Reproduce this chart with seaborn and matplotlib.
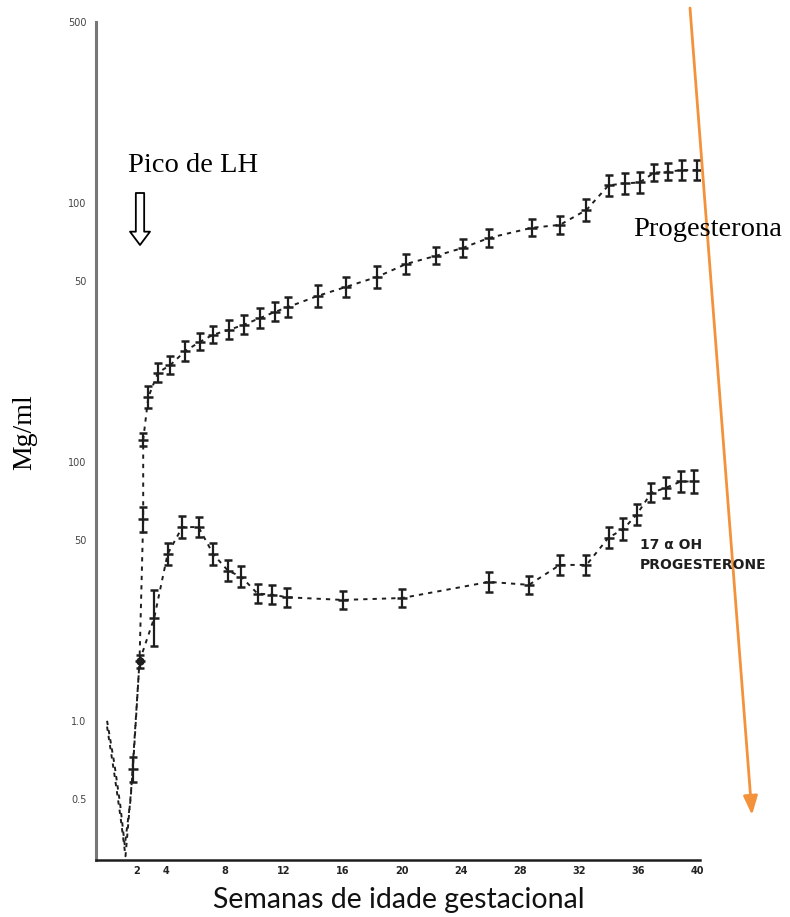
import numpy as np
import pandas as pd
import matplotlib
matplotlib.use("Agg")
import matplotlib.pyplot as plt
import seaborn as sns

# ---- data ----
weeks_prog = [0, 0.5, 0.9, 1.2, 1.6, 2.2, 2.45, 2.45, 2.8, 3.45, 4.3, 5.3, 6.3, 7.2, 8.3,
              9.3, 10.4, 11.4, 12.3, 14.3, 16.2, 18.3, 20.3, 22.3, 24.1, 25.9, 28.8,
              30.7, 32.5, 34.0, 35.1, 36.1, 37.1, 38.0, 39.0, 40.0]
progesterone = [1.0, 0.68, 0.47, 0.33, 0.50, 1.7, 6.0, 12.2, 17.8, 22.1, 23.7, 26.8, 29.1,
                31.0, 32.4, 33.9, 36.0, 38.0, 39.7, 43.8, 47.4, 51.8, 58.2, 62.5, 67.0,
                73.3, 80.2, 82.3, 94.0, 117, 119, 120, 131, 132, 134, 134]
prog_relerr = [0, 0, 0, 0, 0, 0, 0.12, 0.06, 0.10, 0.09, 0.08, 0.09, 0.08, 0.08, 0.09,
               0.09, 0.09, 0.09, 0.09, 0.10, 0.09, 0.10, 0.09, 0.08, 0.08, 0.08, 0.08,
               0.08, 0.10, 0.10, 0.10, 0.10, 0.08, 0.08, 0.09, 0.09]

weeks_ohp = [0, 0.5, 0.9, 1.25, 1.75, 2.2, 3.2, 4.1, 5.1, 6.2, 7.2, 8.2, 9.1, 10.2, 11.2,
             12.2, 16.0, 20.0, 25.9, 28.6, 30.7, 32.5, 34.0, 35.0, 35.9, 36.9, 37.9,
             38.9, 39.8]
ohp = [0.95, 0.62, 0.43, 0.30, 0.65, 1.7, 2.5, 4.4, 5.6, 5.6, 4.4, 3.8, 3.6, 3.1, 3.07,
       3.0, 2.93, 2.98, 3.44, 3.35, 4.0, 4.0, 5.1, 5.5, 6.25, 7.6, 7.95, 8.4, 8.4]
ohp_relerr = [0, 0, 0, 0, 0.12, 0.06, 0.28, 0.10, 0.10, 0.09, 0.10, 0.10, 0.10, 0.09, 0.09,
              0.09, 0.08, 0.08, 0.09, 0.08, 0.09, 0.09, 0.10, 0.10, 0.10, 0.09, 0.10,
              0.10, 0.11]

ytick_values = [500, 100, 50, 10, 5, 1, 0.5]
ytick_labels = ["500", "100", "50", "100", "50", "1.0", "0.5"]
xtick_values = [2, 4, 8, 12, 16, 20, 24, 28, 32, 36, 40]

df = pd.concat([
    pd.DataFrame({"semana": weeks_prog, "valor": progesterone, "rel": prog_relerr,
                  "serie": "Progesterona"}),
    pd.DataFrame({"semana": weeks_ohp, "valor": ohp, "rel": ohp_relerr,
                  "serie": "17 α OH"}),
], ignore_index=True)

sns.set_style("white")
plt.rcParams["font.family"] = ["DejaVu Sans"]

fig = plt.figure(figsize=(7.9, 9.17), dpi=100)
ax = fig.add_axes([96 / 790, 1 - 860 / 917, (700 - 96) / 790, (860 - 22) / 917])

ink = "#1e1e1e"
sns.lineplot(data=df, x="semana", y="valor", hue="serie",
             estimator=None, sort=False, palette=[ink, ink], legend=False, ax=ax,
             linewidth=1.4, linestyle=(0, (2.2, 2.6)))

for name, grp in df.groupby("serie", sort=False):
    g = grp[grp["rel"] > 0]
    v = g["valor"].to_numpy()
    r = g["rel"].to_numpy()
    ax.errorbar(g["semana"], v, yerr=[v - v / (1 + r), v * r], fmt="_", color=ink,
                ms=7, mew=1.8, elinewidth=1.6, capsize=3, capthick=1.6)

# big dot on the rising limb
ax.plot([2.2], [1.7], "o", color=ink, ms=5)

ax.set_yscale("log")
ax.set_ylim(0.29, 500)
ax.set_xlim(-0.75, 40.2)

ax.set_yticks(ytick_values)
ax.set_yticklabels(ytick_labels)
ax.yaxis.set_minor_locator(matplotlib.ticker.NullLocator())
ax.set_xticks(np.arange(0, 41, 2))
ax.set_xticklabels([str(t) if t in xtick_values else "" for t in np.arange(0, 41, 2)])
ax.tick_params(axis="y", direction="out", length=5, width=1.2, color="#555",
               labelsize=7, labelcolor="#444", pad=2)
ax.tick_params(axis="x", direction="inout", length=5, width=2, color=ink,
               labelsize=7, labelcolor="#222", pad=2)
for lbl in ax.get_xticklabels():
    lbl.set_fontweight("bold")

for s in ["top", "right"]:
    ax.spines[s].set_visible(False)
ax.spines["left"].set_color("#777")
ax.spines["left"].set_linewidth(2.2)
ax.spines["bottom"].set_color(ink)
ax.spines["bottom"].set_linewidth(1.8)
ax.set_xlabel("")
ax.set_ylabel("")

# texts
serif = ["Liberation Serif", "DejaVu Serif"]
fig.text(128 / 790, 1 - 165 / 917, "Pico de LH", family=serif, fontsize=20.5,
         va="center", ha="left", color="black")
fig.text(633 / 790, 1 - 230 / 917, "Progesterona", family=serif, fontsize=20.5,
         va="center", ha="left", color="black")
fig.text(25 / 790, 1 - 432 / 917, "Mg/ml", family=serif, fontsize=20,
         va="center", ha="center", rotation=90, color="black")
fig.text(399 / 790, 1 - 900 / 917, "Semanas de idade gestacional", family=["Lato", "DejaVu Sans"],
         fontsize=20.5, va="center", ha="center", color="#111")
fig.text(640 / 790, 1 - 545 / 917, "17 α OH", fontsize=10, fontweight="bold",
         va="center", ha="left", color=ink)
fig.text(640 / 790, 1 - 565 / 917, "PROGESTERONE", fontsize=10, fontweight="bold",
         va="center", ha="left", color=ink)

# hollow LH arrow
ax.annotate("", xy=(140, 917 - 245), xytext=(140, 917 - 193),
            xycoords="figure pixels", textcoords="figure pixels",
            arrowprops=dict(arrowstyle="simple,head_length=0.8,head_width=1.2,tail_width=0.5",
                            fc="white", ec="black", lw=1.3, mutation_scale=12,
                            shrinkA=0, shrinkB=0))

# orange arrow
ax.annotate("", xy=(752, 917 - 815), xytext=(690, 917 - 8),
            xycoords="figure pixels", textcoords="figure pixels",
            arrowprops=dict(arrowstyle="-|>,head_length=0.95,head_width=0.36",
                            color="#F4923C", lw=2.0, mutation_scale=12,
                            shrinkA=0, shrinkB=0), annotation_clip=False)

fig.savefig("out.png", dpi=100)
